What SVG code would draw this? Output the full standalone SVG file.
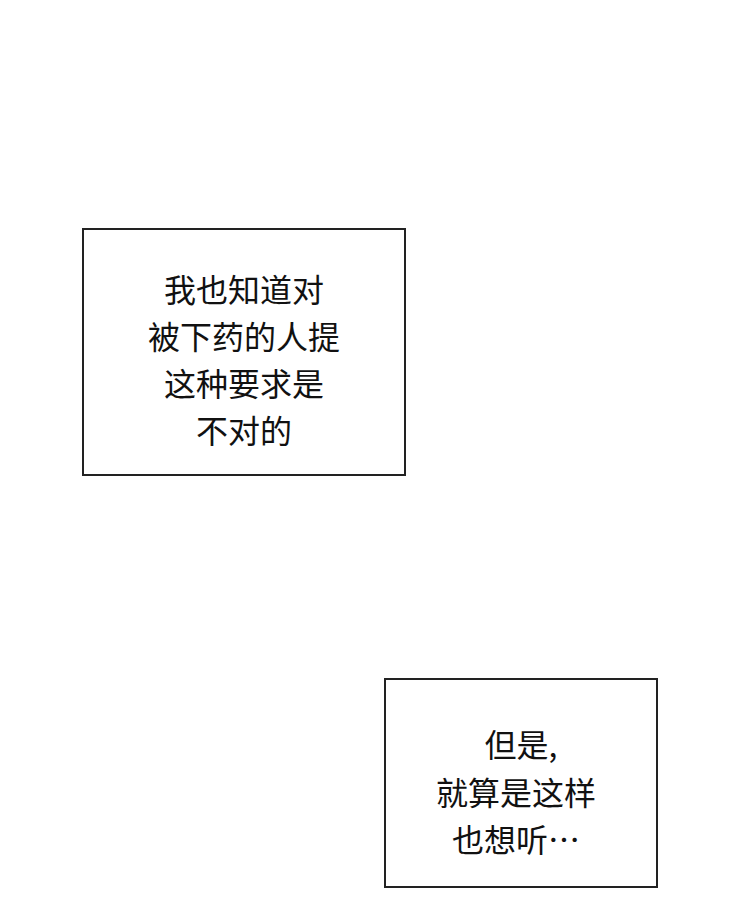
<svg xmlns="http://www.w3.org/2000/svg" width="740" height="915" viewBox="0 0 740 915">
<style>
.box{fill:#fff;stroke:#222;stroke-width:2}
.t{font-family:"Noto Sans CJK SC",sans-serif;font-size:32px;fill:#111;text-anchor:middle}
</style>
<rect width="740" height="915" fill="#fff"/>
<g id="box1">
<rect class="box" x="83" y="229" width="322" height="246"/>
<text class="t" x="244" y="302">我也知道对</text>
<text class="t" x="244" y="349">被下药的人提</text>
<text class="t" x="244" y="396">这种要求是</text>
<text class="t" x="244" y="443">不对的</text>
</g>
<g id="box2">
<rect class="box" x="385" y="679" width="272" height="208"/>
<text class="t" x="521" y="757">但是,</text>
<text class="t" x="516" y="805">就算是这样</text>
<text class="t" x="516" y="852">也想听…</text>
</g>
<g id="connectors"></g>
</svg>
